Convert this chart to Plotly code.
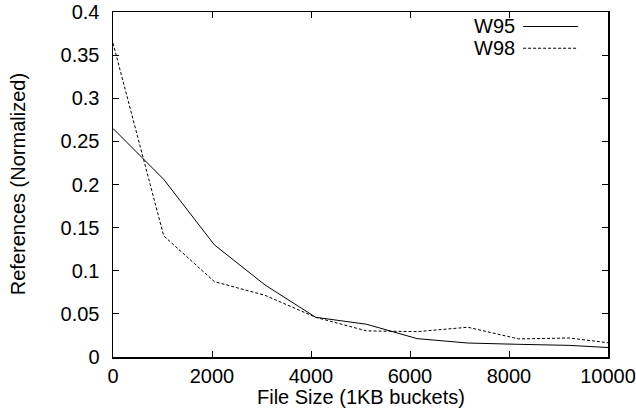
import plotly.graph_objects as go

# Data (file size in bytes buckets, normalized references)
x_vals = [0, 1024, 2048, 3072, 4096, 5120, 6144, 7168, 8192, 9216, 10240]
w95 = [0.265, 0.206, 0.130, 0.0835, 0.046, 0.0380, 0.0213, 0.0162, 0.0147, 0.0135, 0.0102]
w98 = [0.364, 0.1405, 0.0874, 0.0715, 0.046, 0.0303, 0.0294, 0.0345, 0.0210, 0.0220, 0.0149]

x_ticks = [0, 2000, 4000, 6000, 8000, 10000]
x_ticklabels = ["0", "2000", "4000", "6000", "8000", "10000"]
y_ticks = [0, 0.05, 0.1, 0.15, 0.2, 0.25, 0.3, 0.35, 0.4]
y_ticklabels = ["0", "0.05", "0.1", "0.15", "0.2", "0.25", "0.3", "0.35", "0.4"]

series_names = ["W95", "W98"]
x_title = "File Size (1KB buckets)"
y_title = "References (Normalized)"

FONT = "Liberation Sans, Arial, Helvetica, sans-serif"

fig = go.Figure()
fig.add_trace(go.Scatter(x=x_vals, y=w95, mode="lines", name=series_names[0],
                         line=dict(color="black", width=1), showlegend=False))
fig.add_trace(go.Scatter(x=x_vals, y=w98, mode="lines", name=series_names[1],
                         line=dict(color="black", width=1, dash="3px,2px"), showlegend=False))

axis_common = dict(showline=True, linecolor="black", linewidth=1.5, mirror="allticks",
                   ticks="inside", ticklen=6, tickwidth=1, tickcolor="black",
                   showgrid=False, zeroline=False, automargin=False,
                   tickfont=dict(family=FONT, size=20, color="black"))

fig.update_xaxes(range=[0, 10000], tickvals=x_ticks, ticktext=x_ticklabels,
                 ticklabelstandoff=0, **axis_common)
fig.update_yaxes(range=[0, 0.4], tickvals=y_ticks, ticktext=y_ticklabels,
                 ticklabelstandoff=8, **axis_common)

# Axis titles
fig.add_annotation(x=0.5, y=-0.116, xref="paper", yref="paper", text=x_title, showarrow=False,
                   xanchor="center", yanchor="middle", font=dict(family=FONT, size=20, color="black"))
fig.add_annotation(x=-0.1925, y=0.5, xref="paper", yref="paper", text=y_title, showarrow=False,
                   textangle=-90, xanchor="center", yanchor="middle",
                   font=dict(family=FONT, size=20, color="black"))

# Legend drawn gnuplot-style: label on the left, line sample on the right
leg_y = [0.958, 0.895]
leg_dash = ["solid", "3px,2px"]
for name, yy, dash in zip(series_names, leg_y, leg_dash):
    fig.add_annotation(x=0.817, y=yy, xref="paper", yref="paper", text=name, showarrow=False,
                       xanchor="right", yanchor="middle", font=dict(family=FONT, size=20, color="black"))
    fig.add_shape(type="line", xref="paper", yref="paper", x0=0.8285, x1=0.9396, y0=yy, y1=yy,
                  line=dict(color="black", width=1, dash=dash))

fig.update_layout(width=636, height=408, margin=dict(l=113, r=28, t=12, b=51),
                  paper_bgcolor="white", plot_bgcolor="white", hovermode=False,
                  font=dict(family=FONT, size=20, color="black"))

# Remove the default page margin so the figure sits at the window's top-left corner
fig.write_html("out.html", config={"displayModeBar": False, "staticPlot": True},
               post_script="document.body.style.margin='0';")
